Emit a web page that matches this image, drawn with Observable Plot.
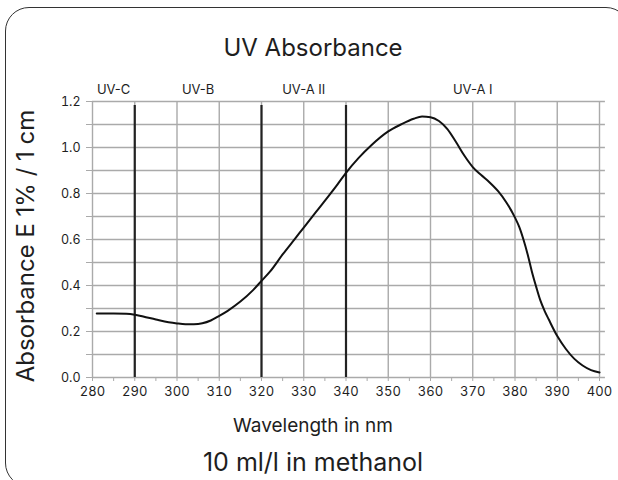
<!DOCTYPE html>
<html>
<head>
<meta charset="utf-8">
<script src="https://cdn.jsdelivr.net/npm/d3@7"></script>
<script src="https://cdn.jsdelivr.net/npm/@observablehq/plot@0.6"></script>
<style>
  html, body { margin: 0; padding: 0; background: #fff; }
  #wrap { position: relative; width: 618px; height: 480px; overflow: hidden; background: #fff; font-family: Inter, Roboto, sans-serif; color: #1e1e1e; }
  #card { position: absolute; left: 5px; top: 7px; width: 625px; height: 480px; border: 1.6px solid #333; border-radius: 24px; box-sizing: border-box; }
  #chart { position: absolute; left: 0; top: 0; }
  .t { position: absolute; white-space: nowrap; line-height: 1; }
  #title { left: 0; width: 626px; text-align: center; top: 36px; font-size: 24px; }
  #xlabel { left: 0; width: 626px; text-align: center; top: 416px; font-size: 19px; }
  #caption { left: 0; width: 626px; text-align: center; top: 449.5px; font-size: 25px; }
  #ylabel { left: 26px; top: 246px; font-size: 24px; transform: translate(-50%, -50%) rotate(-90deg); }
</style>
</head>
<body>
<div id="wrap">
  <div id="card"></div>
  <div id="chart"></div>
  <div class="t" id="title">UV Absorbance</div>
  <div class="t" id="ylabel">Absorbance E 1% / 1 cm</div>
  <div class="t" id="xlabel">Wavelength in nm</div>
  <div class="t" id="caption">10 ml/l in methanol</div>
</div>
<script>
// Spectrum (nm, absorbance)
const wavelength = [281,283,285,288,290,292,295,298,300,302,304,306,308,310,312,315,318,320,322,325,328,330,333,336,338,340,343,346,350,353,356,358,360,362,364,366,368,370,372,374,376,378,380,381,382,383,384,385,386,387,388,390,392,394,396,398,400];
const absorbance = [0.278,0.278,0.278,0.277,0.273,0.265,0.252,0.240,0.235,0.232,0.232,0.236,0.248,0.268,0.290,0.330,0.380,0.420,0.460,0.535,0.605,0.652,0.722,0.792,0.840,0.890,0.955,1.010,1.070,1.100,1.125,1.135,1.132,1.115,1.080,1.025,0.965,0.915,0.880,0.848,0.810,0.760,0.695,0.655,0.600,0.535,0.460,0.395,0.335,0.290,0.252,0.180,0.125,0.082,0.052,0.032,0.022];

// UV bands
const bandNames = ["UV-C", "UV-B", "UV-A II", "UV-A I"];
const bandStart = [280, 290, 320, 340];
const bandEnd = [290, 320, 340, 400];
const bandBoundaries = [290, 320, 340];

// Ticks
const xTicks = d3.range(280, 401, 5);
const xGrid = d3.range(280, 401, 10);
const yTicks = d3.range(0, 13).map(i => i / 10);

const spectrum = wavelength.map((w, i) => ({w, a: absorbance[i]}));
const bands = bandNames.map((n, i) => ({name: n, mid: (bandStart[i] + bandEnd[i]) / 2}));

const chart = Plot.plot({
  width: 618,
  height: 480,
  marginLeft: 92,
  marginRight: 19,
  marginTop: 101,
  marginBottom: 103,
  style: {fontFamily: "Inter, Roboto, sans-serif", background: "transparent", color: "#1e1e1e"},
  x: {domain: [280, 400]},
  y: {domain: [0, 1.2]},
  marks: [
    Plot.ruleY(yTicks, {x1: 280, x2: 401.4, stroke: "#aaa", strokeWidth: 1.4}),
    Plot.ruleX(xGrid, {y1: 0, y2: 1.2, stroke: "#aaa", strokeWidth: 1.4}),
    Plot.axisY({ticks: yTicks, tickFormat: d => (Math.round(d * 10) % 2 === 0 ? d.toFixed(1) : ""), tickSize: 6, tickPadding: 6, stroke: "#aaa", fill: "#1e1e1e", fontSize: 12.5, label: null}),
    Plot.axisX({ticks: xTicks, tickFormat: d => (d % 10 === 0 ? String(d) : ""), tickSize: 4, tickPadding: 5, stroke: "#aaa", fill: "#1e1e1e", fontSize: 13, label: null}),
    Plot.ruleX(bandBoundaries, {y1: 0, y2: 1.2, stroke: "#222", strokeWidth: 2.2, insetBottom: -4}),
    Plot.text(bands, {x: "mid", frameAnchor: "top", lineAnchor: "middle", dy: -12, text: "name", fontSize: 13, fill: "#1e1e1e"}),
    Plot.line(spectrum, {x: "w", y: "a", curve: "monotone-x", stroke: "#111", strokeWidth: 2})
  ]
});
document.getElementById("chart").appendChild(chart);
</script>
</body>
</html>
